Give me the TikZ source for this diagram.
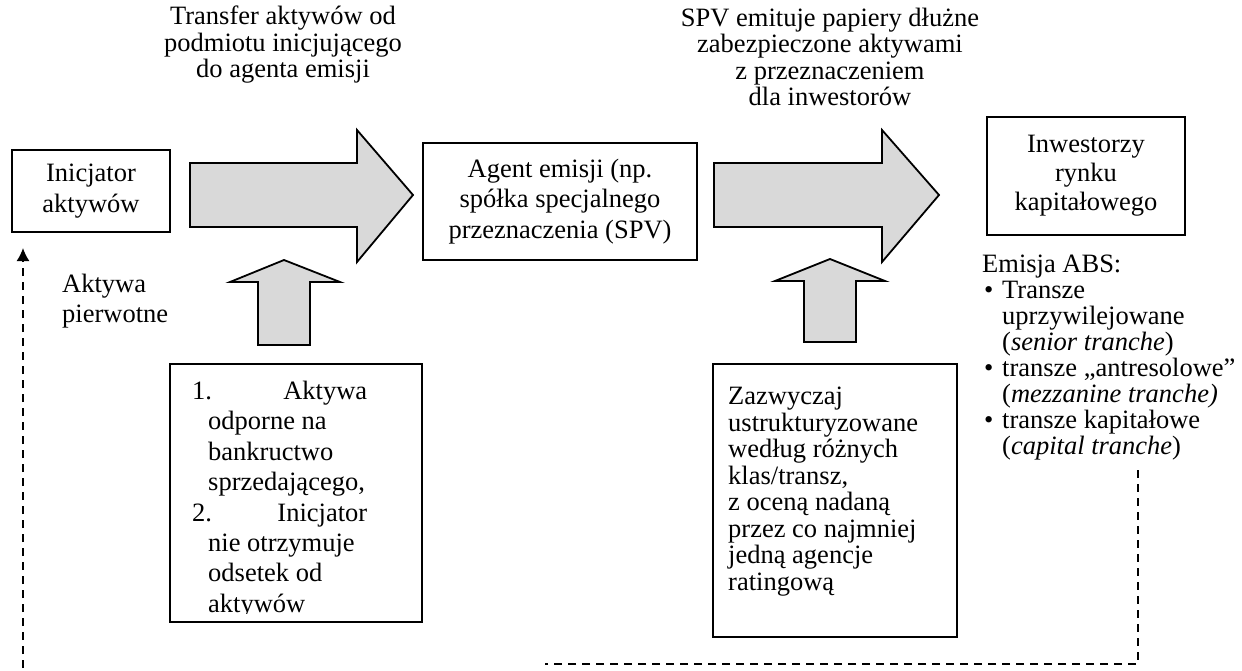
\documentclass[tikz,border=0pt]{standalone}
\usepackage{fontspec}
\setmainfont{Liberation Serif}
\usetikzlibrary{arrows.meta}
\begin{document}
\begin{tikzpicture}[x=1pt,y=-1pt,
  txt/.style={font=\fontsize{26.5}{30.4}\selectfont, inner sep=0pt},
  tighttxt/.style={font=\fontsize{26.5}{26.5}\selectfont, inner sep=0pt},
  box/.style={draw=black, line width=1.8pt, inner sep=0pt},
  blockarrow/.style={draw=black, fill=black!15, line width=1.8pt, line join=miter},
  dashconn/.style={line width=1.6pt, dash pattern=on 8pt off 6pt}
]
\useasboundingbox (0,0) rectangle (1242,671);

% boxes
\node[box, minimum width=158pt, minimum height=82pt, txt, align=center] (ini) at (91,191) {Inicjator\\aktywów};
\node[box, minimum width=274pt, minimum height=117pt, txt, align=center] (agent) at (560,201.5) {Agent emisji (np.\\spółka specjalnego\\przeznaczenia (SPV)};
\node[box, minimum width=198pt, minimum height=118pt, font=\fontsize{26.5}{29}\selectfont, align=center] (inv) at (1086,176) {Inwestorzy\\rynku\\kapitałowego};
\node[box, minimum width=252pt, minimum height=258pt] (b1) at (296,493) {};
\node[box, minimum width=244pt, minimum height=273pt] (b2) at (835,500.5) {};

% block arrows
\draw[blockarrow] (190,163) -- (357,163) -- (357,130) -- (413,195) -- (357,262) -- (357,227) -- (190,227) -- cycle;
\draw[blockarrow] (714,163) -- (882,163) -- (882,130) -- (939,195) -- (882,262) -- (882,227) -- (714,227) -- cycle;
\draw[blockarrow] (258,345) -- (258,282) -- (230,282) -- (284,260) -- (340,282) -- (310,282) -- (310,345) -- cycle;
\draw[blockarrow] (804,342) -- (804,281) -- (775,281) -- (830,259) -- (885,281) -- (856,281) -- (856,342) -- cycle;

% labels
\node[tighttxt, align=center] (t1) at (283,45) {Transfer aktywów od\\podmiotu inicjującego\\do agenta emisji};
\node[tighttxt, align=center] (t2) at (830,57) {SPV emituje papiery dłużne\\zabezpieczone aktywami\\z przeznaczeniem\\dla inwestorów};
\node[txt, align=left, anchor=west] (ap) at (62,301) {Aktywa\\pierwotne};

% box 1 text (clipped at the box bottom)
\begin{scope}
\clip (171,365) rectangle (421,613);
\node[txt, align=left, anchor=north west] (b1t) at (192,381) {\hbox to 175pt{1.\hfill Aktywa}\\
\hspace*{16pt}odporne na\\
\hspace*{16pt}bankructwo\\
\hspace*{16pt}sprzedającego,\\
\hbox to 175pt{2.\hfill Inicjator}\\
\hspace*{16pt}nie otrzymuje\\
\hspace*{16pt}odsetek od\\
\hspace*{16pt}aktywów};
\end{scope}

% box 2 text
\node[tighttxt, align=left, anchor=north west] (b2t) at (728,387) {Zazwyczaj\\ustrukturyzowane\\według różnych\\klas/transz,\\z oceną nadaną\\przez co najmniej\\jedną agencje\\ratingową};

% right list
\node[font=\fontsize{26.5}{26}\selectfont, inner sep=0pt, align=left, anchor=north west] (abs) at (982,255) {Emisja ABS:\\
\makebox[20pt][l]{\hspace*{2pt}•}Transze\\
\hspace*{20pt}uprzywilejowane\\
\hspace*{20pt}(\textit{senior tranche})\\
\makebox[20pt][l]{\hspace*{2pt}•}transze „antresolowe”\\
\hspace*{20pt}(\textit{mezzanine tranche)}\\
\makebox[20pt][l]{\hspace*{2pt}•}transze kapitałowe\\
\hspace*{20pt}(\textit{capital tranche})};

% dashed return connectors
\coordinate (rtop) at (1138,470);
\coordinate (rcorner) at (1138,664);
\coordinate (rend) at (545,664);
\coordinate (lbot) at (23,668);
\coordinate (ltip) at (23,248);
\draw[dashconn] (rtop) -- (rcorner) -- (rend);
\draw[dashconn, -{Latex[length=13pt,width=13pt]}] (lbot) -- (ltip);
\end{tikzpicture}
\end{document}
